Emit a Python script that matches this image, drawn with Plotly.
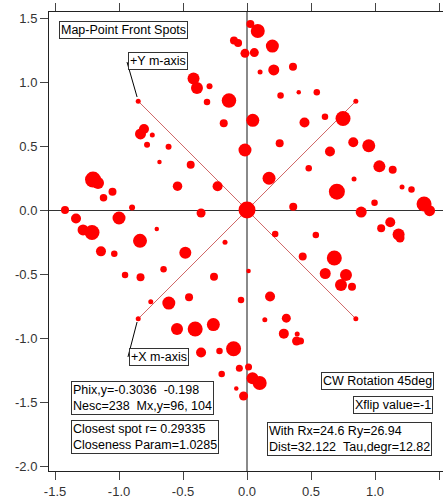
import plotly.graph_objects as go

# ---- data ----
spot_x = [-1.422, -1.336, -1.281, -1.211, -1.203, -1.164, -1.121, -1.051, -1.000, -0.898,
          -0.705, -0.836, -0.832, -0.805, -0.781, -0.740, -0.613, -0.684, -0.440, -0.543,
          -0.359, -0.230, -0.418, -0.391, -0.293, -0.3125, -0.141, -0.182, 0.045, -0.016,
          0.026, 0.084, -0.102, -0.070, -0.016, 0.057, 0.198, 0.102, 0.209, 0.359,
          0.262, 0.404, 0.545, 0.449, 0.609, 0.750, 0.255, 0.648, 0.830, 0.951,
          0.482, 1.034, 1.138, 0.172, 0.836, 0.702, 1.211, 1.285, 1.383, 1.426,
          0.361, 0.996, 0.892, 1.119, 1.048, 1.184, 1.195, 0.220, 0.5375, -0.172,
          0.000, 0.435, 0.682, 0.611, 0.773, 0.734, 0.820, 0.012, 0.180, -0.047,
          0.139, 0.307, 0.2875, 0.387, 0.418, 0.392, -0.105, -0.060, 0.012, 0.043,
          0.099, -0.084, -0.027, -0.482, -0.652, -0.258, -0.752, -0.611, -0.453, -0.547,
          -0.405, -0.263, -0.359, -0.215, -0.198, -1.141, -1.037, -0.953, -0.832]
spot_y = [0.000, -0.066, -0.156, -0.176, 0.238, 0.211, 0.096, 0.142, -0.0625, 0.020,
          -0.148, -0.241, 0.594, 0.633, 0.509, 0.586, 0.494, 0.375, 0.353, 0.186,
          -0.023, 0.186, 1.027, 0.953, 0.966, 0.844, 0.855, 0.677, 0.701, 0.469,
          1.453, 1.398, 1.324, 1.305, 1.224, 1.230, 1.281, 1.078, 1.094, 1.120,
          0.895, 0.920, 0.920, 0.684, 0.728, 0.715, 0.521, 0.457, 0.529, 0.502,
          0.327, 0.341, 0.315, 0.248, 0.242, 0.143, 0.180, 0.160, 0.047, -0.005,
          0.025, 0.057, -0.016, -0.096, -0.143, -0.191, -0.219, -0.1875, -0.195, -0.252,
          0.000, -0.363, -0.375, -0.496, -0.508, -0.586, -0.599, -0.477, -0.676, -0.703,
          -0.857, -0.845, -0.966, -1.023, -1.023, -0.969, -1.084, -1.237, -1.227, -1.315,
          -1.352, -1.395, -1.453, -0.334, -0.463, -0.521, -0.716, -0.727, -0.682, -0.930,
          -0.930, -0.895, -1.113, -1.102, -1.281, -0.323, -0.342, -0.508, -0.526]
spot_size = [8, 10, 11, 15, 16, 12, 7.5, 8, 13, 6,
             4.5, 14, 11, 10, 6, 5, 6, 4.5, 8, 9.5,
             9, 10, 12, 12, 6, 6.5, 14.5, 8, 13, 13,
             8, 14, 8, 8, 9, 9, 13, 5, 11, 8,
             6.5, 4.5, 6.5, 10, 6.5, 15, 8, 10, 10, 13,
             6.5, 12, 8, 13, 5, 16, 5, 6.5, 15, 11,
             8, 6.5, 11, 10, 8, 12, 9, 6.5, 6.5, 5,
             17, 8, 15, 11, 12, 12, 8, 4.5, 10, 6.5,
             5, 9, 10, 9, 7, 5, 15, 7, 7, 12,
             14, 4.5, 9, 12, 6.5, 8, 5, 13, 8, 12,
             15, 13, 10, 6.5, 6.5, 10, 6.5, 6.5, 8]

# m-axis end points (rotated axes, 45 deg CW, xflip)
m_end = 0.85
m_axis_x = [-m_end, m_end, None, -m_end, m_end]
m_axis_y = [m_end, -m_end, None, -m_end, m_end]

tick_vals_x = [-1.5, -1.0, -0.5, 0.0, 0.5, 1.0, 1.5]
tick_text_x = ["-1.5", "-1.0", "-0.5", "0.0", "0.5", "1.0", "1.5"]
tick_vals_y = [-2.0, -1.5, -1.0, -0.5, 0.0, 0.5, 1.0, 1.5]
tick_text_y = ["-2.0", "-1.5", "-1.0", "-0.5", "0.0", "0.5", "1.0", "1.5"]

FONT = "Liberation Sans, Arial, sans-serif"
NB = "\u00a0"

fig = go.Figure()
fig.add_trace(go.Scatter(x=m_axis_x, y=m_axis_y, mode="lines",
                         line=dict(color="#d06666", width=1), hoverinfo="skip"))
fig.add_trace(go.Scatter(x=[-m_end, m_end, m_end, -m_end], y=[m_end, m_end, -m_end, -m_end],
                         mode="markers", marker=dict(color="#ff0000", size=5, opacity=1),
                         hoverinfo="skip"))
fig.add_trace(go.Scatter(x=spot_x, y=spot_y, mode="markers",
                         marker=dict(color="#ff0000", size=spot_size, opacity=1,
                                     line=dict(width=0))))

# leader lines from m-axis labels
fig.add_trace(go.Scatter(x=[-m_end - 0.009, -0.9375, None, -m_end - 0.009, -0.930],
                         y=[m_end + 0.033, 1.156, None, -m_end - 0.025, -1.148],
                         mode="lines", line=dict(color="black", width=1), hoverinfo="skip"))

def box(text, x, y, size=12.5, xanchor="left"):
    return dict(text=text, x=x, y=y, xref="x", yref="y", xanchor=xanchor, yanchor="top",
                showarrow=False, align="left", bgcolor="white", bordercolor="#333",
                borderwidth=1, borderpad=1, font=dict(family=FONT, size=size, color="black"))

annotations = [
    box("Map-Point Front Spots", -1.469, 1.477, 12.5),
    box("+Y m-axis", -0.930, 1.234, 12.5),
    box("+X m-axis", -0.922, -1.078, 12.5),
    box("Phix,y=-0.3036" + NB + NB + "-0.198<br>Nesc=238" + NB + NB + "Mx,y=96, 104", -1.375, -1.336),
    box("Closest spot r= 0.29335<br>Closeness Param=1.0285", -1.375, -1.641),
    box("CW Rotation 45deg", 1.461, -1.266, 12.5, "right"),
    box("Xflip value=-1", 1.453, -1.453, 12.5, "right"),
    box("With Rx=24.6 Ry=26.94<br>Dist=32.122" + NB + NB + "Tau,degr=12.82", 0.156, -1.656),
]

axis_common = dict(showgrid=False, showline=True, linecolor="#222", linewidth=1,
                   ticks="outside", ticklen=8, tickcolor="#444", tickwidth=1,
                   tickfont=dict(family=FONT, size=13, color="#333"))

fig.update_layout(
    width=443, height=500, autosize=False,
    margin=dict(l=49, r=0, t=12, b=29),
    paper_bgcolor="white", plot_bgcolor="white",
    showlegend=False, hovermode=False,
    annotations=annotations,
    xaxis=dict(range=[-1.547, 1.531], tickvals=tick_vals_x, ticktext=tick_text_x,
               mirror="ticks", zeroline=True, zerolinecolor="#8a8a8a", zerolinewidth=2,
               **axis_common),
    yaxis=dict(range=[-2.039, 1.547], tickvals=tick_vals_y, ticktext=tick_text_y,
               mirror=False, zeroline=True, zerolinecolor="#333", zerolinewidth=1,
               **axis_common),
)

fig.write_html("out.html", config={"displayModeBar": False},
               post_script="document.body.style.margin='0';document.body.style.overflow='hidden';")
